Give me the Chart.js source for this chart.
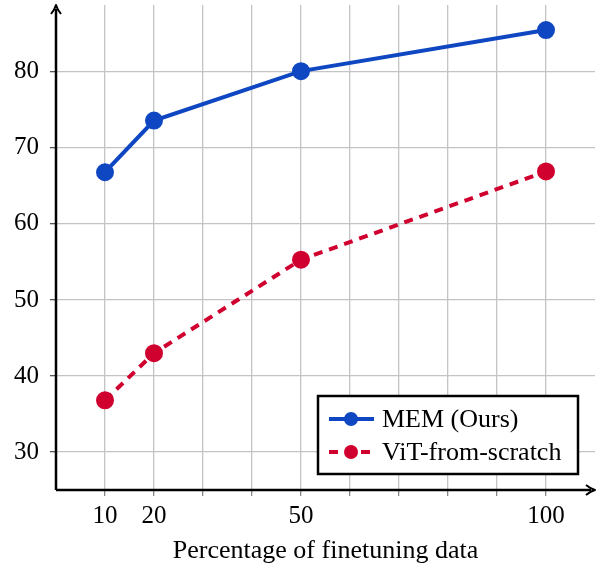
<!DOCTYPE html>
<html>
<head>
<meta charset="utf-8">
<script src="https://cdn.jsdelivr.net/npm/chart.js@4"></script>
<style>
    html, body { margin: 0; padding: 0; background: #fff; }
    #wrap { width: 597px; height: 563px; }
</style>
</head>
<body>
<div id="wrap"><canvas id="chart" width="597" height="563"></canvas></div>
<script>
// data
const xValues = [10, 20, 50, 100];
const memValues = [66.8, 73.6, 80.1, 85.5];
const vitValues = [36.8, 43.0, 55.3, 66.9];
const xTickLabels = [10, 20, 50, 100];
const xGridValues = [10, 20, 30, 40, 50, 60, 70, 80, 90, 100];
const yTickLabels = [30, 40, 50, 60, 70, 80];
const seriesNames = ["MEM (Ours)", "ViT-from-scratch"];

const BLUE = "#0f47c2";
const RED = "#d0002f";
const FONT = "'Liberation Serif', 'DejaVu Serif', serif";

// axis lines with arrow heads
const axisArrows = {
    id: "axisArrows",
    afterDraw(chart) {
        const ctx = chart.ctx;
        const a = chart.chartArea;
        ctx.save();
        ctx.strokeStyle = "#000";
        ctx.fillStyle = "#000";
        ctx.lineWidth = 2.5;
        ctx.beginPath();
        ctx.moveTo(a.left, a.bottom);
        ctx.lineTo(a.left, a.top + 4);
        ctx.moveTo(a.left, a.bottom);
        ctx.lineTo(a.right - 4, a.bottom);
        ctx.stroke();
        ctx.lineWidth = 2;
        ctx.lineJoin = "round";
        ctx.beginPath();
        ctx.moveTo(a.left - 5, a.top + 9);
        ctx.quadraticCurveTo(a.left - 1, a.top + 4, a.left, a.top);
        ctx.quadraticCurveTo(a.left + 1, a.top + 4, a.left + 5, a.top + 9);
        ctx.stroke();
        ctx.beginPath();
        ctx.moveTo(a.right - 9, a.bottom - 5);
        ctx.quadraticCurveTo(a.right - 4, a.bottom - 1, a.right, a.bottom);
        ctx.quadraticCurveTo(a.right - 4, a.bottom + 1, a.right - 9, a.bottom + 5);
        ctx.stroke();
        ctx.restore();
    }
};

// boxed legend inside the plot, line + marker samples
const boxLegend = {
    id: "boxLegend",
    afterDraw(chart) {
        const ctx = chart.ctx;
        const left = 318, top = 396, right = 578, bottom = 474;
        ctx.save();
        ctx.fillStyle = "#fff";
        ctx.fillRect(left, top, right - left, bottom - top);
        ctx.strokeStyle = "#000";
        ctx.lineWidth = 2.5;
        ctx.strokeRect(left, top, right - left, bottom - top);
        ctx.font = "26px " + FONT;
        ctx.textBaseline = "middle";
        chart.data.datasets.forEach((ds, i) => {
            const y = top + 23 + i * 33;
            ctx.strokeStyle = ds.borderColor;
            ctx.lineWidth = ds.borderWidth;
            ctx.setLineDash(ds.borderDash || []);
            ctx.beginPath();
            ctx.moveTo(329, y);
            ctx.lineTo(374, y);
            ctx.stroke();
            ctx.setLineDash([]);
            ctx.fillStyle = ds.pointBackgroundColor;
            ctx.beginPath();
            ctx.arc(351, y, 7, 0, Math.PI * 2);
            ctx.fill();
            ctx.fillStyle = "#000";
            ctx.fillText(ds.label, 382, y + 1);
        });
        ctx.restore();
    }
};

const gridColor = "#c4c4c4";

new Chart(document.getElementById("chart"), {
    type: "line",
    data: {
        datasets: [
            {
                label: seriesNames[0],
                data: xValues.map((x, i) => ({ x: x, y: memValues[i] })),
                borderColor: BLUE,
                backgroundColor: BLUE,
                pointBackgroundColor: BLUE,
                pointBorderColor: BLUE,
                borderWidth: 4,
                pointRadius: 7,
                tension: 0
            },
            {
                label: seriesNames[1],
                data: xValues.map((x, i) => ({ x: x, y: vitValues[i] })),
                borderColor: RED,
                backgroundColor: RED,
                pointBackgroundColor: RED,
                pointBorderColor: RED,
                borderWidth: 4,
                borderDash: [9, 7],
                pointRadius: 7,
                tension: 0
            }
        ]
    },
    options: {
        responsive: false,
        animation: false,
        layout: {
            autoPadding: false,
            padding: { top: 5, right: 2, left: 0, bottom: 0 }
        },
        plugins: {
            legend: { display: false },
            tooltip: { enabled: false }
        },
        scales: {
            x: {
                type: "linear",
                min: 0,
                max: 110,
                afterBuildTicks: axis => {
                    axis.ticks = xGridValues.map(v => ({ value: v }));
                },
                afterFit: scale => {
                    scale.height = 73;
                    scale.paddingLeft = 0;
                    scale.paddingRight = 0;
                },
                border: { display: false },
                grid: {
                    color: gridColor,
                    lineWidth: 1.3,
                    tickColor: "#888",
                    tickLength: 6
                },
                ticks: {
                    color: "#000",
                    font: { family: FONT, size: 25 },
                    padding: 5,
                    maxRotation: 0,
                    autoSkip: false,
                    callback: v => xTickLabels.includes(v) ? String(v) : ""
                },
                title: {
                    display: true,
                    text: "Percentage of finetuning data",
                    color: "#000",
                    font: { family: FONT, size: 26 },
                    padding: { top: 0, bottom: -4 }
                }
            },
            y: {
                type: "linear",
                min: 25,
                max: 88.8,
                afterBuildTicks: axis => {
                    axis.ticks = yTickLabels.map(v => ({ value: v }));
                },
                afterFit: scale => {
                    scale.width = 56;
                    scale.paddingTop = 0;
                    scale.paddingBottom = 0;
                },
                border: { display: false },
                grid: {
                    color: gridColor,
                    lineWidth: 1.3,
                    tickColor: "#555",
                    tickLength: 6
                },
                ticks: {
                    color: "#000",
                    font: { family: FONT, size: 25 },
                    padding: 11
                }
            }
        }
    },
    plugins: [axisArrows, boxLegend]
});
</script>
</body>
</html>
